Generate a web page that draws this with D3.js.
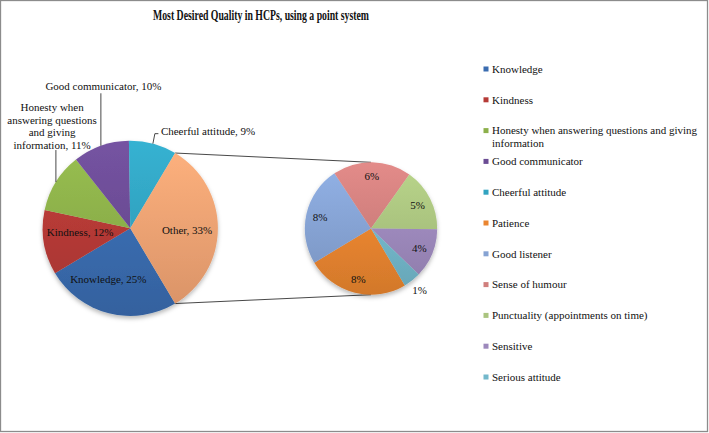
<!DOCTYPE html>
<html>
<head>
<meta charset="utf-8">
<script src="https://cdn.jsdelivr.net/npm/d3@7"></script>
<style>
  html, body { margin: 0; padding: 0; background: #fff; }
  svg { display: block; }
  svg text { font-family: "Liberation Serif", "Tinos", "Times New Roman", "DejaVu Serif", serif; fill: #111; }
</style>
</head>
<body>
<svg id="chart" width="709" height="433"></svg>
<script>
// ---------------- data ----------------
const chartTitle = "Most Desired Quality in HCPs, using a point system";
const primaryCategories = ["Knowledge", "Kindness", "Honesty when answering questions and giving information", "Good communicator", "Cheerful attitude"];
const primaryValues = [25.0, 11.9, 11.0, 10.4, 8.8];
const secondaryCategories = ["Patience", "Good listener", "Sense of humour", "Punctuality (appointments on time)", "Sensitive", "Serious attitude"];
const secondaryValues = [8.2, 8.0, 6.3, 5.05, 3.95, 1.4];
const otherName = "Other";

// ---------------- styles ----------------
const primaryColors = ["#3a6cb0", "#b53a36", "#8cb04a", "#6b4c94", "#31a3c0"];
const otherColor = "#f0a373";
const secondaryColors = ["#ea8530", "#86a3d3", "#d07f7d", "#aac47f", "#9d89bc", "#73b8cb"];
const FONT = "'Liberation Serif', Tinos, 'Times New Roman', 'DejaVu Serif', serif";

const W = 709, H = 433;
const svg = d3.select("#chart").attr("font-family", FONT);
const defs = svg.append("defs");

svg.append("rect").attr("x", 0.5).attr("y", 0.5).attr("width", W - 2).attr("height", H - 2)
  .attr("fill", "#fff").attr("stroke", "#8c8c8c").attr("stroke-width", 1.3);

svg.append("text").attr("x", 261).attr("y", 19.5).attr("text-anchor", "middle")
  .attr("font-family", FONT)
  .attr("font-size", 15).attr("font-weight", "bold")
  .attr("textLength", 216).attr("lengthAdjust", "spacingAndGlyphs")
  .text(chartTitle);

const shadow = defs.append("filter").attr("id", "shadow").attr("x", "-20%").attr("y", "-20%").attr("width", "140%").attr("height", "150%");
shadow.append("feDropShadow").attr("dx", 0).attr("dy", 2.5).attr("stdDeviation", 2.2).attr("flood-color", "#000").attr("flood-opacity", 0.28);

const total = d3.sum(primaryValues) + d3.sum(secondaryValues);
const otherValue = d3.sum(secondaryValues);
const pct = v => Math.round(v / total * 100) + "%";

const mainData = primaryCategories.map((c, i) => ({ name: c, value: primaryValues[i], color: primaryColors[i] }))
  .concat([{ name: otherName, value: otherValue, color: otherColor }]);
const secData = secondaryCategories.map((c, i) => ({ name: c, value: secondaryValues[i], color: secondaryColors[i] }));

const otherAngle = 2 * Math.PI * otherValue / total;
const startA = Math.PI / 2 + otherAngle / 2;

const main = { cx: 130.3, cy: 228.3, r: 87.6 };
const sec = { cx: 371, cy: 228.5, r: 66.2 };

function gradient(id, color, c) {
  const g = defs.append("linearGradient").attr("id", id).attr("gradientUnits", "userSpaceOnUse")
    .attr("x1", c.cx).attr("y1", c.cy - c.r).attr("x2", c.cx).attr("y2", c.cy + c.r);
  g.append("stop").attr("offset", 0).attr("stop-color", d3.color(color).brighter(0.25));
  g.append("stop").attr("offset", 1).attr("stop-color", d3.color(color).darker(0.3));
  return "url(#" + id + ")";
}

const pieMain = d3.pie().sort(null).value(d => d.value).startAngle(startA).endAngle(startA + 2 * Math.PI);
const pieSec = d3.pie().sort(null).value(d => d.value).startAngle(startA).endAngle(startA + 2 * Math.PI);
const arcMain = d3.arc().innerRadius(0).outerRadius(main.r);
const arcSec = d3.arc().innerRadius(0).outerRadius(sec.r);

const mainArcs = pieMain(mainData);
const secArcs = pieSec(secData);

const pt = (c, a, rr) => [c.cx + rr * Math.sin(a), c.cy - rr * Math.cos(a)];

// connector lines
const otherArc = mainArcs[mainArcs.length - 1];
const conn = svg.append("g").attr("stroke", "#333").attr("stroke-width", 0.9).attr("fill", "none");
[[otherArc.startAngle, 0], [otherArc.endAngle, Math.PI]].forEach(([a, b]) => {
  const p1 = pt(main, a, main.r), p2 = pt(sec, b, sec.r);
  conn.append("line").attr("x1", p1[0]).attr("y1", p1[1]).attr("x2", p2[0]).attr("y2", p2[1]);
});

// pies
const gMain = svg.append("g").attr("transform", `translate(${main.cx},${main.cy})`).attr("filter", "url(#shadow)");
gMain.selectAll("path").data(mainArcs).join("path")
  .attr("d", arcMain)
  .attr("fill", (d, i) => gradient("gm" + i, d.data.color, { cx: 0, cy: 0, r: main.r }));

const gSec = svg.append("g").attr("transform", `translate(${sec.cx},${sec.cy})`).attr("filter", "url(#shadow)");
gSec.selectAll("path").data(secArcs).join("path")
  .attr("d", arcSec)
  .attr("fill", (d, i) => gradient("gs" + i, d.data.color, { cx: 0, cy: 0, r: sec.r }));

// ---------------- labels ----------------
const fs = 11;
const labels = svg.append("g").attr("font-size", fs).attr("font-family", FONT);
const mid = d => (d.startAngle + d.endAngle) / 2;

function wrap(str, maxW) {
  const words = str.split(" ");
  const tmp = labels.append("text").attr("font-size", fs);
  const lines = []; let cur = "";
  words.forEach(w => {
    const t = cur ? cur + " " + w : w;
    tmp.text(t);
    if (tmp.node().getComputedTextLength() > maxW && cur) { lines.push(cur); cur = w; } else cur = t;
  });
  lines.push(cur);
  tmp.remove();
  return lines;
}

const insideCfg = { "Knowledge": [0.62, -8.6, -1.8], "Kindness": [0.6, 1.6, -5], "Other": [0.64, 0.7, 1.5] };
const lineH = 12.4;
mainArcs.forEach(d => {
  const name = d.data.name;
  const txt = name + ", " + pct(d.data.value);
  if (insideCfg[name]) {
    const [f, nx, ny] = insideCfg[name];
    const p = pt(main, mid(d), main.r * f);
    labels.append("text").attr("x", p[0] + nx).attr("y", p[1] + ny).attr("dy", "0.35em")
      .attr("text-anchor", "middle").text(txt);
    return;
  }
  const p = pt(main, mid(d), main.r);
  if (name === "Cheerful attitude") {
    svg.append("polyline").attr("fill", "none").attr("stroke", "#333").attr("stroke-width", 0.9)
      .attr("points", [[p[0], p[1]], [p[0] + 2, p[1] - 10], [p[0] + 5.5, p[1] - 10]].map(q => q.join(",")).join(" "));
    labels.append("text").attr("x", p[0] + 8).attr("y", p[1] - 12.5).attr("dy", "0.35em").text(txt);
  } else if (name === "Good communicator") {
    svg.append("line").attr("stroke", "#333").attr("stroke-width", 0.9)
      .attr("x1", p[0]).attr("y1", p[1]).attr("x2", p[0]).attr("y2", p[1] - 52.5);
    labels.append("text").attr("x", p[0] + 2.5).attr("y", p[1] - 59.5).attr("dy", "0.35em")
      .attr("text-anchor", "middle").text(txt);
  } else {
    svg.append("line").attr("stroke", "#333").attr("stroke-width", 0.9)
      .attr("x1", p[0]).attr("y1", p[1]).attr("x2", p[0]).attr("y2", p[1] - 32);
    const lines = wrap(txt, 90);
    const t = labels.append("text").attr("text-anchor", "middle");
    lines.forEach((ln, i) => {
      t.append("tspan").attr("x", p[0] - 3.8)
        .attr("y", p[1] - 37.3 - (lines.length - 1 - i) * lineH).attr("dy", "0.35em").text(ln);
    });
  }
});

secArcs.forEach(d => {
  const outside = d.data.value / total < 0.02;
  const p = pt(sec, mid(d), sec.r * (outside ? 1.18 : 0.79));
  labels.append("text").attr("x", p[0]).attr("y", p[1]).attr("dy", "0.35em")
    .attr("text-anchor", "middle").text(pct(d.data.value));
});

// ---------------- legend ----------------
const legendItems = mainData.slice(0, primaryCategories.length).concat(secData);
const legend = svg.append("g").attr("font-size", fs).attr("font-family", FONT);
const ly0 = 69, lstep = 30.8;
legendItems.forEach((d, i) => {
  const y = ly0 + i * lstep;
  legend.append("rect").attr("x", 483.5).attr("y", y - 2.5).attr("width", 5).attr("height", 5).attr("fill", d.color);
  const lines = wrap(d.name, 212);
  const t = legend.append("text");
  lines.forEach((ln, j) => t.append("tspan").attr("x", 492).attr("y", y + j * 12.6).attr("dy", "0.35em").text(ln));
});
</script>
</body>
</html>
